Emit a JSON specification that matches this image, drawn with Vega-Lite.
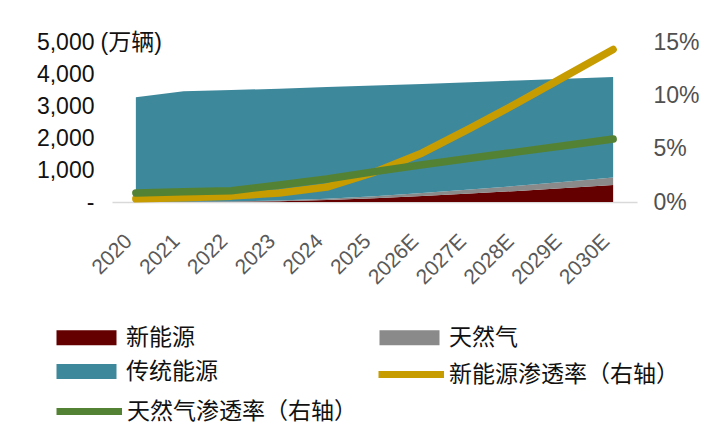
{
  "$schema": "https://vega.github.io/schema/vega-lite/v6.json",
  "width": 525,
  "height": 160,
  "autosize": "none",
  "padding": {"left": 112, "top": 42, "right": 78, "bottom": 240},
  "background": "white",
  "config": {
    "view": {"stroke": null},
    "font": "Liberation Sans",
    "axis": {"grid": false, "ticks": false},
    "legend": {
      "orient": "none", "direction": "horizontal",
      "labelFont": "Noto Sans CJK SC", "labelFontSize": 23, "labelColor": "#111111",
      "labelLimit": 400, "symbolSize": 400, "labelOffset": 48
    }
  },
  "datasets": {
    "vol": [
      {"year": "2020", "type": "新能源", "value": 2},
      {"year": "2021", "type": "新能源", "value": 4},
      {"year": "2022", "type": "新能源", "value": 8},
      {"year": "2023", "type": "新能源", "value": 25},
      {"year": "2024", "type": "新能源", "value": 60},
      {"year": "2025", "type": "新能源", "value": 115},
      {"year": "2026E", "type": "新能源", "value": 190},
      {"year": "2027E", "type": "新能源", "value": 265},
      {"year": "2028E", "type": "新能源", "value": 345},
      {"year": "2029E", "type": "新能源", "value": 435},
      {"year": "2030E", "type": "新能源", "value": 528},
      {"year": "2020", "type": "天然气", "value": 4},
      {"year": "2021", "type": "天然气", "value": 6},
      {"year": "2022", "type": "天然气", "value": 10},
      {"year": "2023", "type": "天然气", "value": 25},
      {"year": "2024", "type": "天然气", "value": 40},
      {"year": "2025", "type": "天然气", "value": 65},
      {"year": "2026E", "type": "天然气", "value": 95},
      {"year": "2027E", "type": "天然气", "value": 125},
      {"year": "2028E", "type": "天然气", "value": 160},
      {"year": "2029E", "type": "天然气", "value": 200},
      {"year": "2030E", "type": "天然气", "value": 240},
      {"year": "2020", "type": "传统能源", "value": 3264},
      {"year": "2021", "type": "传统能源", "value": 3450},
      {"year": "2022", "type": "传统能源", "value": 3482},
      {"year": "2023", "type": "传统能源", "value": 3490},
      {"year": "2024", "type": "传统能源", "value": 3490},
      {"year": "2025", "type": "传统能源", "value": 3460},
      {"year": "2026E", "type": "传统能源", "value": 3405},
      {"year": "2027E", "type": "传统能源", "value": 3350},
      {"year": "2028E", "type": "传统能源", "value": 3295},
      {"year": "2029E", "type": "传统能源", "value": 3220},
      {"year": "2030E", "type": "传统能源", "value": 3142}
    ],
    "rate": [
      {"year": "2020", "type": "新能源渗透率（右轴）", "rate": 0.003},
      {"year": "2021", "type": "新能源渗透率（右轴）", "rate": 0.004},
      {"year": "2022", "type": "新能源渗透率（右轴）", "rate": 0.0055},
      {"year": "2023", "type": "新能源渗透率（右轴）", "rate": 0.0085},
      {"year": "2024", "type": "新能源渗透率（右轴）", "rate": 0.014},
      {"year": "2025", "type": "新能源渗透率（右轴）", "rate": 0.028},
      {"year": "2026E", "type": "新能源渗透率（右轴）", "rate": 0.046},
      {"year": "2027E", "type": "新能源渗透率（右轴）", "rate": 0.069},
      {"year": "2028E", "type": "新能源渗透率（右轴）", "rate": 0.093},
      {"year": "2029E", "type": "新能源渗透率（右轴）", "rate": 0.118},
      {"year": "2030E", "type": "新能源渗透率（右轴）", "rate": 0.143},
      {"year": "2020", "type": "天然气渗透率（右轴）", "rate": 0.0085},
      {"year": "2021", "type": "天然气渗透率（右轴）", "rate": 0.0095},
      {"year": "2022", "type": "天然气渗透率（右轴）", "rate": 0.0105},
      {"year": "2023", "type": "天然气渗透率（右轴）", "rate": 0.016},
      {"year": "2024", "type": "天然气渗透率（右轴）", "rate": 0.0215},
      {"year": "2025", "type": "天然气渗透率（右轴）", "rate": 0.0285},
      {"year": "2026E", "type": "天然气渗透率（右轴）", "rate": 0.035},
      {"year": "2027E", "type": "天然气渗透率（右轴）", "rate": 0.041},
      {"year": "2028E", "type": "天然气渗透率（右轴）", "rate": 0.047},
      {"year": "2029E", "type": "天然气渗透率（右轴）", "rate": 0.053},
      {"year": "2030E", "type": "天然气渗透率（右轴）", "rate": 0.059}
    ]
  },
  "encoding": {
    "x": {
      "field": "year", "type": "ordinal",
      "scale": {"type": "point", "padding": 0.5},
      "axis": {
        "title": null, "labelAngle": -45, "labelFontSize": 21,
        "labelColor": "#595959", "labelPadding": 28, "labelOffset": -15,
        "domainColor": "#d9d9d9", "domainWidth": 1.5
      }
    }
  },
  "layer": [
    {
      "data": {"name": "vol"},
      "mark": {"type": "area", "opacity": 1},
      "encoding": {
        "y": {
          "field": "value", "type": "quantitative", "stack": "zero",
          "scale": {"domain": [0, 5000]},
          "axis": {
            "values": [0, 1000, 2000, 3000, 4000, 5000],
            "labelExpr": "datum.value == 0 ? '-' : format(datum.value, ',')",
            "labelFontSize": 23, "labelColor": "#111111", "labelPadding": 18,
            "domain": false,
            "title": "(万辆)", "titleAngle": 0, "titleX": -12, "titleY": 0,
            "titleAlign": "left", "titleBaseline": "middle",
            "titleFontSize": 23, "titleFontWeight": "normal", "titleColor": "#111111",
            "titleFont": "Liberation Sans, Noto Sans CJK SC"
          }
        },
        "color": {
          "field": "type", "type": "nominal",
          "scale": {
            "domain": ["新能源", "天然气", "传统能源"],
            "range": ["#640000", "#8a8a8a", "#3e889b"]
          },
          "legend": {
            "legendX": -57, "legendY": 284, "title": null,
            "columns": 2, "columnPadding": 160, "rowPadding": 10,
            "symbolType": "M-1,-0.75H5V0.75H-1Z", "symbolStrokeWidth": 0
          }
        }
      }
    },
    {
      "data": {"name": "rate"},
      "encoding": {
        "y": {
          "field": "rate", "type": "quantitative",
          "scale": {"domain": [0, 0.15]},
          "axis": {
            "orient": "right", "values": [0, 0.05, 0.1, 0.15], "format": ".0%",
            "labelFontSize": 23, "labelColor": "#505050", "labelPadding": 16,
            "domain": false, "title": null
          }
        }
      },
      "layer": [
        {
          "transform": [{"filter": "datum.type == '新能源渗透率（右轴）'"}],
          "mark": {"type": "line", "strokeWidth": 7.5, "strokeCap": "round", "strokeJoin": "round"},
          "encoding": {
            "stroke": {
              "field": "type", "type": "nominal",
              "scale": {"domain": ["新能源渗透率（右轴）"], "range": ["#c79c00"]},
              "legend": {
                "legendX": 265, "legendY": 319, "title": null, "labelOffset": 45,
                "symbolType": "M-1.2,0H5.35", "symbolStrokeWidth": 7,
                "symbolFillColor": "transparent"
              }
            }
          }
        },
        {
          "transform": [{"filter": "datum.type == '天然气渗透率（右轴）'"}],
          "mark": {"type": "line", "color": "#548235", "strokeWidth": 7.5, "strokeCap": "round", "strokeJoin": "round"},
          "encoding": {
            "opacity": {
              "field": "type", "type": "nominal",
              "scale": {"domain": ["天然气渗透率（右轴）"], "range": [1]},
              "legend": {
                "legendX": -57, "legendY": 356, "title": null, "labelOffset": 45,
                "symbolType": "M-1.2,0H5.35", "symbolStrokeWidth": 7,
                "symbolStrokeColor": "#548235", "symbolFillColor": "transparent"
              }
            }
          }
        }
      ]
    }
  ],
  "resolve": {"scale": {"y": "independent"}}
}
